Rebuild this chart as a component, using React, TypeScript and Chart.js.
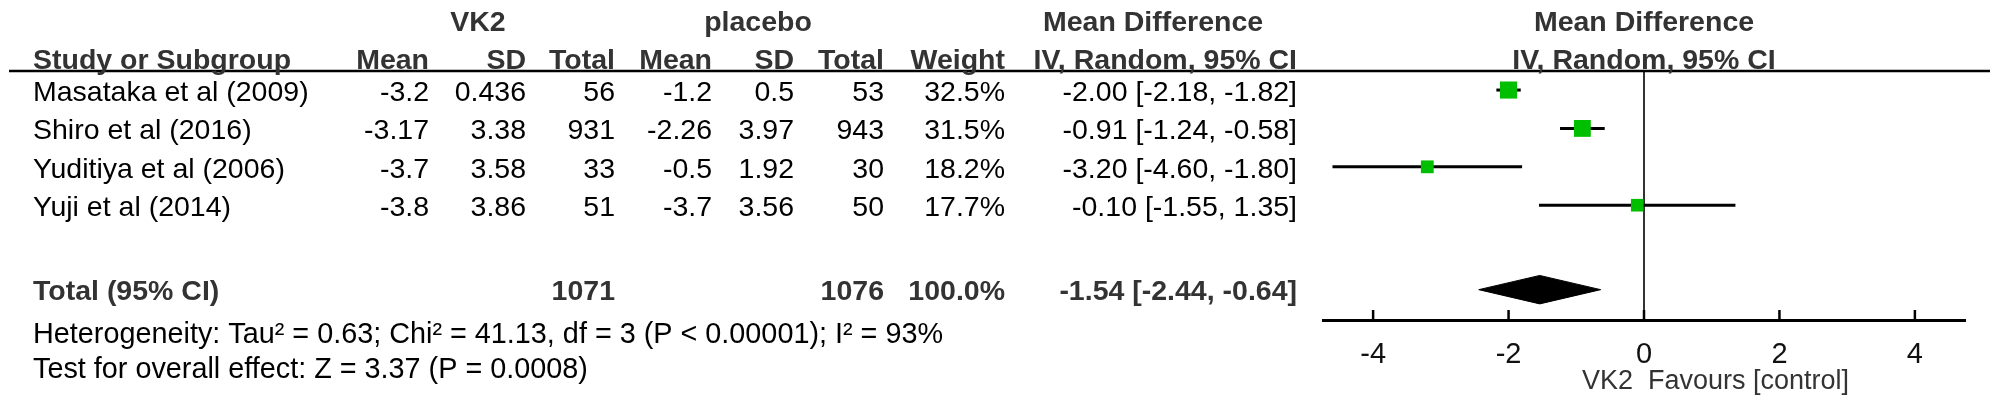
import React, { useEffect, useRef } from "react";
import { Chart, registerables } from "chart.js";

Chart.register(...registerables);

// ---------- data ----------
const studies = ["Masataka et al (2009)", "Shiro et al (2016)", "Yuditiya et al (2006)", "Yuji et al (2014)"];
const vk2Mean = [-3.2, -3.17, -3.7, -3.8];
const vk2SD = [0.436, 3.38, 3.58, 3.86];
const vk2Total = [56, 931, 33, 51];
const placeboMean = [-1.2, -2.26, -0.5, -3.7];
const placeboSD = [0.5, 3.97, 1.92, 3.56];
const placeboTotal = [53, 943, 30, 50];
const weights = [32.5, 31.5, 18.2, 17.7];
const meanDiff = [-2.0, -0.91, -3.2, -0.1];
const ciLow = [-2.18, -1.24, -4.6, -1.55];
const ciHigh = [-1.82, -0.58, -1.8, 1.35];

const totalVk2 = 1071;
const totalPlacebo = 1076;
const totalWeight = 100.0;
const totalMd = -1.54;
const totalLow = -2.44;
const totalHigh = -0.64;

const xTicks = [-4, -2, 0, 2, 4];
const heterogeneityText = "Heterogeneity: Tau² = 0.63; Chi² = 41.13, df = 3 (P < 0.00001); I² = 93%";
const overallText = "Test for overall effect: Z = 3.37 (P = 0.0008)";

// ---------- layout ----------
const FONT = '"Liberation Sans", Arial, Helvetica, sans-serif';
const FS = 28.5;
const TOTAL_ROW = 5.2;
const DIAMOND_HALF = 0.37;

const fmtCI = (m: number, lo: number, hi: number) =>
  `${m.toFixed(2)} [${lo.toFixed(2)}, ${hi.toFixed(2)}]`;

export default function App() {
  const ref = useRef<HTMLCanvasElement>(null);

  useEffect(() => {
    document.body.style.margin = "0";
    const canvas = ref.current!;

    const ciSets = studies.map((s, i) => ({
      label: s,
      data: [
        { x: ciLow[i], y: i },
        { x: ciHigh[i], y: i },
      ],
      borderColor: "#000",
      borderWidth: 3,
      pointRadius: 0,
      fill: false,
      order: 2,
    }));

    const squares = {
      label: "effects",
      data: meanDiff.map((m, i) => ({ x: m, y: i })),
      showLine: false,
      pointStyle: "rect",
      pointRadius: weights.map((w) => Math.sqrt(w) * 2.12),
      pointBackgroundColor: "#00BF00",
      pointBorderColor: "#00BF00",
      pointBorderWidth: 0,
      order: 0,
    };

    const diamond = {
      label: "total",
      data: [
        { x: totalLow, y: TOTAL_ROW },
        { x: totalMd, y: TOTAL_ROW - DIAMOND_HALF },
        { x: totalHigh, y: TOTAL_ROW },
        { x: totalMd, y: TOTAL_ROW + DIAMOND_HALF },
        { x: totalLow, y: TOTAL_ROW },
      ],
      borderColor: "#000",
      backgroundColor: "#000",
      borderWidth: 1,
      pointRadius: 0,
      tension: 0,
      fill: "shape",
      order: 1,
    };

    const forestPlugin = {
      id: "forest",
      beforeDatasetsDraw(chart: any) {
        const { ctx, chartArea, scales } = chart;
        const x0 = scales.x.getPixelForValue(0);
        ctx.save();
        ctx.strokeStyle = "#333";
        ctx.lineWidth = 2;
        ctx.beginPath();
        ctx.moveTo(x0, chartArea.top);
        ctx.lineTo(x0, chartArea.bottom);
        ctx.stroke();
        ctx.restore();
      },
      afterDraw(chart: any) {
        const { ctx, chartArea, scales } = chart;
        const xs = scales.x;
        const ys = scales.y;
        ctx.save();
        // header rule
        ctx.strokeStyle = "#000";
        ctx.lineWidth = 2.5;
        ctx.beginPath();
        ctx.moveTo(9, chartArea.top - 1);
        ctx.lineTo(1990, chartArea.top - 1);
        ctx.stroke();
        // tick marks (upwards)
        ctx.lineWidth = 2.5;
        xTicks.forEach((t) => {
          const px = xs.getPixelForValue(t);
          ctx.beginPath();
          ctx.moveTo(px, chartArea.bottom - 10);
          ctx.lineTo(px, chartArea.bottom);
          ctx.stroke();
        });

        const text = (
          s: string,
          x: number,
          y: number,
          align: CanvasTextAlign,
          bold = false,
          color = "#000",
          size = FS
        ) => {
          ctx.font = `${bold ? "bold " : ""}${size}px ${FONT}`;
          ctx.fillStyle = color;
          ctx.textAlign = align;
          ctx.textBaseline = "middle";
          ctx.fillText(s, x, y);
        };

        const HC = "#333";
        // headers
        const h1 = 23;
        const h2 = 61;
        text("VK2", 478, h1, "center", true, HC);
        text("placebo", 758, h1, "center", true, HC);
        text("Mean Difference", 1043, h1, "left", true, HC);
        const cx = (chartArea.left + chartArea.right) / 2;
        text("Mean Difference", cx, h1, "center", true, HC);

        text("Study or Subgroup", 33, h2, "left", true, HC);
        text("Mean", 429, h2, "right", true, HC);
        text("SD", 526, h2, "right", true, HC);
        text("Total", 615, h2, "right", true, HC);
        text("Mean", 712, h2, "right", true, HC);
        text("SD", 794, h2, "right", true, HC);
        text("Total", 884, h2, "right", true, HC);
        text("Weight", 1005, h2, "right", true, HC);
        text("IV, Random, 95% CI", 1297, h2, "right", true, HC);
        text("IV, Random, 95% CI", cx, h2, "center", true, HC);

        // study rows
        studies.forEach((s, i) => {
          const y = ys.getPixelForValue(i) + 3;
          text(s, 33, y, "left");
          text(String(vk2Mean[i]), 429, y, "right");
          text(String(vk2SD[i]), 526, y, "right");
          text(String(vk2Total[i]), 615, y, "right");
          text(String(placeboMean[i]), 712, y, "right");
          text(String(placeboSD[i]), 794, y, "right");
          text(String(placeboTotal[i]), 884, y, "right");
          text(weights[i].toFixed(1) + "%", 1005, y, "right");
          text(fmtCI(meanDiff[i], ciLow[i], ciHigh[i]), 1297, y, "right");
        });

        // total row
        const ty = ys.getPixelForValue(TOTAL_ROW) + 2;
        text("Total (95% CI)", 33, ty, "left", true, HC);
        text(String(totalVk2), 615, ty, "right", true, HC);
        text(String(totalPlacebo), 884, ty, "right", true, HC);
        text(totalWeight.toFixed(1) + "%", 1005, ty, "right", true, HC);
        text(fmtCI(totalMd, totalLow, totalHigh), 1297, ty, "right", true, HC);

        // footer
        text(heterogeneityText, 33, 335, "left", false, "#000", 28.8);
        text(overallText, 33, 370, "left", false, "#000", 28.8);

        const x0 = xs.getPixelForValue(0);
        text("VK2", x0 - 11, 382, "right", false, "#333", 27);
        text("Favours [control]", x0 + 4, 382, "left", false, "#333", 27);
        ctx.restore();
      },
    };

    const chart = new Chart(canvas, {
      type: "line",
      data: { datasets: [squares, diamond, ...ciSets] as any },
      options: {
        responsive: false,
        devicePixelRatio: 1,
        animation: false,
        events: [],
        layout: { padding: { left: 1323, right: 35, top: 72, bottom: 0 } },
        plugins: {
          legend: { display: false },
          tooltip: { enabled: false },
          title: { display: false },
        },
        scales: {
          x: {
            type: "linear",
            min: -4.74,
            max: 4.74,
            afterFit: (s: any) => {
              s.height = 89;
            },
            afterBuildTicks: (s: any) => {
              s.ticks = xTicks.map((v) => ({ value: v }));
            },
            grid: { display: true, drawOnChartArea: false, drawTicks: false },
            border: { display: true, color: "#000", width: 3 },
            ticks: {
              padding: 18,
              autoSkip: false,
              maxRotation: 0,
              color: "#111",
              font: { family: FONT, size: 29 },
            },
          },
          y: {
            type: "linear",
            display: false,
            min: -0.47,
            max: 5.99,
            reverse: true,
          },
        },
      } as any,
      plugins: [forestPlugin],
    });

    return () => chart.destroy();
  }, []);

  return (
    <canvas
      ref={ref}
      width={2000}
      height={409}
      style={{ display: "block", width: "2000px", height: "409px" }}
    />
  );
}
